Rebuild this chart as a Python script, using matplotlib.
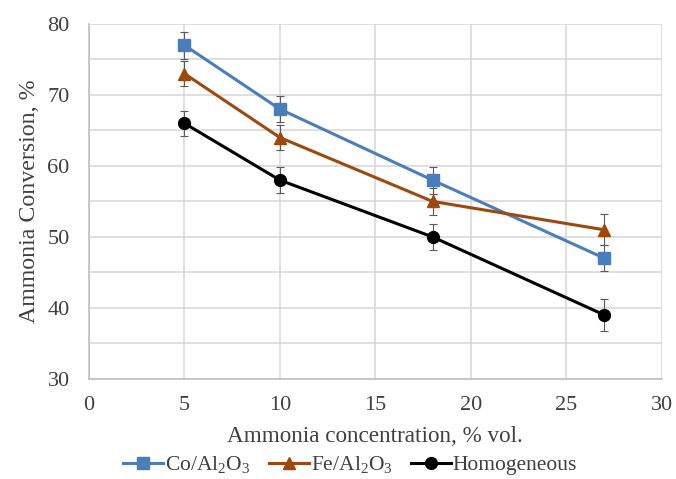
import matplotlib
matplotlib.use("Agg")
import matplotlib.pyplot as plt
from matplotlib.ticker import MultipleLocator

plt.rcParams['font.family'] = ['Liberation Serif', 'DejaVu Serif']
plt.rcParams['mathtext.fontset'] = 'custom'
plt.rcParams['mathtext.rm'] = 'Liberation Serif'
plt.rcParams['mathtext.it'] = 'Liberation Serif:italic'

# data
conc = [5, 10, 18, 27]
co_vals = [77, 68, 58, 47]
co_err = [1.9, 1.8, 1.9, 1.8]
fe_vals = [73, 64, 55, 51]
fe_err = [1.8, 1.8, 1.9, 2.2]
hom_vals = [66, 58, 50, 39]
hom_err = [1.8, 1.8, 1.8, 2.2]

labels = [r'Co/Al$_2$O$_3$', r'Fe/Al$_2$O$_3$', 'Homogeneous']
colors = ['#4a7ebb', '#9e480e', '#000000']
markers = ['s', '^', 'o']

fig = plt.figure(figsize=(6.76, 4.79), dpi=100)
ax = fig.add_axes([0.1317, 0.209, 0.847, 0.741])

series = [(co_vals, co_err), (fe_vals, fe_err), (hom_vals, hom_err)]
handles = []
for (vals, err), lab, c, m in zip(series, labels, colors, markers):
    ax.errorbar(conc, vals, yerr=err, fmt='none', ecolor='#595959',
                elinewidth=0.8, capsize=3, capthick=0.8, zorder=3)
    h, = ax.plot(conc, vals, color=c, marker=m, markersize=8.5, lw=2.2,
                 label=lab, zorder=4, clip_on=False)
    handles.append(h)

ax.set_xlim(0, 30)
ax.set_ylim(30, 80)
ax.xaxis.set_major_locator(MultipleLocator(5))
ax.yaxis.set_major_locator(MultipleLocator(10))
ax.yaxis.set_minor_locator(MultipleLocator(5))
ax.grid(True, which='both', color='#d9d9d9', lw=1.2, zorder=0)
ax.set_axisbelow(True)
ax.tick_params(which='both', length=0, labelsize=16, colors='#404040')
ax.tick_params(axis='y', pad=14)
ax.tick_params(axis='x', pad=12)

for s in ['top', 'right']:
    ax.spines[s].set_visible(False)
for s in ['left', 'bottom']:
    ax.spines[s].set_color('#bfbfbf')
    ax.spines[s].set_linewidth(1.2)

ax.set_xlabel('Ammonia concentration, % vol.', fontsize=16.7, color='#404040', labelpad=8)
ax.set_ylabel('Ammonia Conversion, %', fontsize=17.2, color='#404040', labelpad=5)

fig.legend(handles=handles, loc='center', bbox_to_anchor=(0.518, 0.03), ncol=3,
           frameon=False, fontsize=15.5, handlelength=1.85, handletextpad=0.1,
           columnspacing=0.85, labelcolor='#404040')

fig.savefig('out.png', dpi=100)
